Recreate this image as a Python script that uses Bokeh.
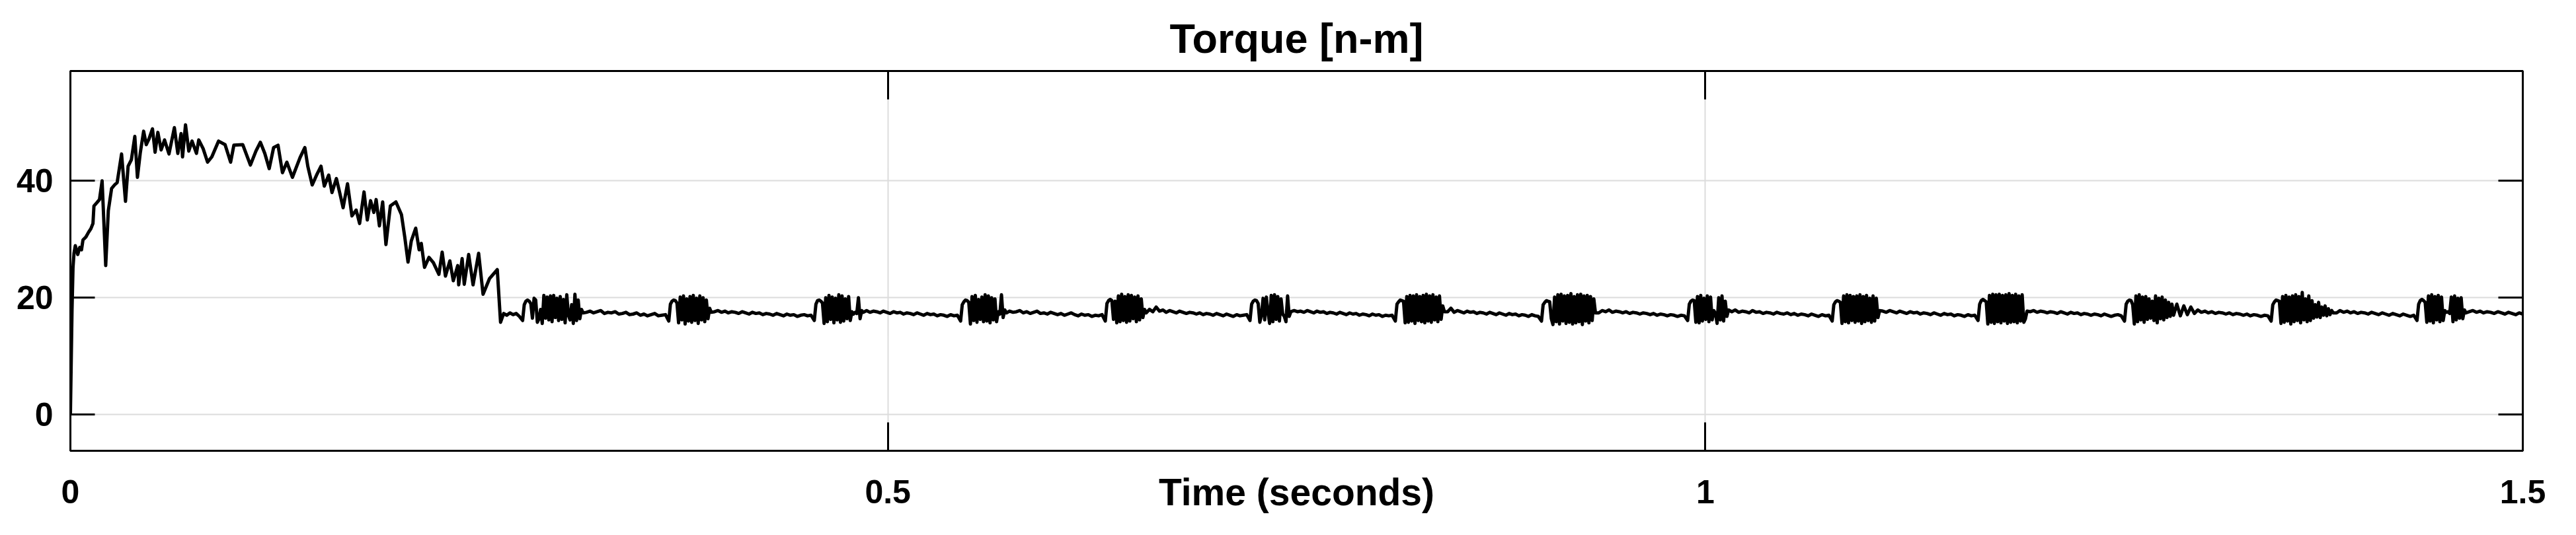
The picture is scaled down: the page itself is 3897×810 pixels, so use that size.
import numpy as np
from bokeh.plotting import figure
from bokeh.models import Range1d, LinearAxis, FixedTicker, NumeralTickFormatter, ColumnDataSource
from bokeh.embed import file_html
from bokeh.resources import INLINE

# ---------------- data ----------------
title_text = "Torque [n-m]"
x_label = "Time (seconds)"
x_ticks = [0, 0.5, 1, 1.5]
y_ticks = [0, 20, 40]
x_limits = (0, 1.5)
y_limits = (-6.2, 58.8)

# start-up transient (time in s, torque in N*m)
time_startup = [
    0.0, 0.0010, 0.0016, 0.0022, 0.0030, 0.0045, 0.0057, 0.0068, 0.0077, 0.0095,
    0.0111, 0.0125, 0.0138, 0.0144, 0.0160, 0.0178, 0.0194, 0.0216, 0.0232, 0.0252,
    0.0270, 0.0286, 0.0313, 0.0337, 0.0353, 0.0373, 0.0394, 0.0410, 0.0427, 0.0448,
    0.0464, 0.0481, 0.0502, 0.0518, 0.0535, 0.0555, 0.0576, 0.0603, 0.0636, 0.0657,
    0.0677, 0.0686, 0.0704, 0.0724, 0.0744, 0.0771, 0.0785, 0.0812, 0.0839, 0.0865,
    0.0906, 0.0946, 0.0980, 0.1000, 0.1054, 0.1101, 0.1135, 0.1162, 0.1189, 0.1216,
    0.1243, 0.1270, 0.1297, 0.1324, 0.1358, 0.1405, 0.1434, 0.1452, 0.1479, 0.1506,
    0.1533, 0.1553, 0.1580, 0.1600, 0.1627, 0.1647, 0.1668, 0.1695, 0.1722, 0.1748,
    0.1769, 0.1796, 0.1816, 0.1836, 0.1856, 0.1870, 0.1890, 0.1910, 0.1930, 0.1957,
    0.1991, 0.2025, 0.2045, 0.2065, 0.2085, 0.2112, 0.2133, 0.2146, 0.2166, 0.2193,
    0.2220, 0.2254, 0.2274, 0.2294, 0.2321, 0.2342, 0.2369, 0.2375, 0.2396, 0.2409,
    0.2436, 0.2463, 0.2497, 0.2524, 0.2564, 0.2611, 0.2631,
]
torque_startup = [
    0.0, 18.0, 25.2, 27.6, 28.9, 27.4, 28.6, 28.2, 29.9, 30.4,
    31.2, 31.8, 32.7, 35.7, 36.2, 36.8, 40.0, 25.5, 34.9, 38.7,
    39.3, 39.7, 44.6, 36.5, 42.5, 43.6, 47.6, 40.6, 44.7, 48.5,
    46.2, 47.2, 48.9, 44.9, 48.3, 45.3, 47.0, 44.6, 49.1, 44.7,
    48.1, 44.1, 49.6, 45.1, 46.8, 44.7, 47.0, 45.5, 43.2, 44.1,
    46.8, 46.2, 43.2, 46.1, 46.2, 42.7, 45.1, 46.6, 44.7, 42.1,
    45.7, 46.1, 41.4, 43.2, 40.6, 44.0, 45.7, 42.5, 39.3, 41.0,
    42.5, 39.1, 41.0, 38.0, 40.4, 38.0, 35.4, 39.5, 34.0, 35.0,
    32.7, 38.1, 33.3, 36.6, 34.6, 36.8, 32.3, 36.4, 29.1, 35.7,
    36.4, 34.2, 30.4, 26.1, 29.7, 31.9, 28.2, 29.3, 25.2, 26.9,
    26.0, 24.0, 27.8, 23.7, 26.3, 22.9, 25.5, 22.2, 26.7, 22.3,
    27.4, 22.2, 27.6, 20.6, 23.3, 24.8, 15.8,
]

# steady state: ripple bursts (sampled every 1 ms from their start time)
burst_start = [0.2766, 0.3660, 0.4550, 0.5445, 0.6330, 0.7215, 0.8104,
               0.8998, 0.9892, 1.0776, 1.1668, 1.2564, 1.3461, 1.4353]
burst_dt = 0.001
burst_torque = [
    [16.1, 18.8, 19.4, 19.6, 19.4, 19.0, 16.5, 19.9, 19.6, 15.8, 16.4, 18.0, 15.6, 20.4, 16.5, 20.1, 16.2, 20.3, 15.9, 20.4,
     16.6, 19.9, 16.1, 20.2, 16.3, 19.7, 15.7, 20.5, 17.0, 16.2, 18.8, 15.6, 20.6, 16.1, 19.6, 16.4, 18.0, 17.4],
    [16.0, 18.9, 19.4, 19.6, 19.5, 19.1, 15.7, 20.1, 16.2, 20.3, 15.5, 19.8, 16.0, 20.2, 15.8, 20.4, 16.1, 19.9, 15.6, 20.3,
     16.2, 20.0, 15.9, 19.6, 16.4, 18.2, 17.5],
    [16.1, 18.9, 19.5, 19.6, 19.4, 19.1, 15.6, 20.0, 15.9, 20.4, 16.3, 20.1, 15.7, 19.9, 16.2, 20.5, 15.8, 20.3, 16.0, 19.8,
     16.4, 20.2, 16.1, 17.6, 17.2, 17.5, 17.3, 20.0, 16.4, 17.8, 17.5],
    [16.0, 18.8, 19.3, 19.6, 19.5, 19.2, 15.5, 20.2, 16.1, 20.4, 15.8, 19.7, 16.3, 20.1, 15.9, 20.5, 16.0, 20.3, 15.7, 20.0,
     16.2, 19.8, 15.9, 17.6, 17.2, 20.5, 16.6, 17.9, 17.4],
    [16.0, 19.0, 19.5, 19.7, 19.5, 16.3, 19.4, 15.7, 20.3, 15.9, 20.6, 16.1, 20.2, 15.8, 20.5, 16.0, 20.4, 16.4, 20.1, 15.9,
     20.3, 16.2, 19.8, 16.6, 18.0, 17.4],
    [16.1, 18.9, 19.4, 19.6, 19.5, 19.0, 15.8, 17.0, 19.9, 16.2, 20.1, 17.5, 15.6, 20.4, 15.9, 20.5, 16.3, 20.2, 16.0, 19.8,
     17.2, 16.8, 15.9, 20.3, 16.8, 17.6],
    [16.0, 18.9, 19.3, 19.6, 19.5, 19.4, 15.7, 20.2, 15.8, 20.4, 16.0, 20.3, 15.6, 20.5, 16.1, 20.2, 15.9, 20.4, 15.7, 20.6,
     16.0, 20.3, 15.8, 20.5, 16.2, 20.1, 15.9, 20.3, 16.3, 18.6, 17.6],
    [16.0, 18.8, 19.2, 19.5, 19.4, 19.3, 16.4, 15.4, 20.1, 15.9, 20.5, 15.5, 20.6, 16.0, 20.3, 15.6, 20.4, 15.8, 20.7, 15.5,
     20.2, 15.7, 20.5, 15.9, 20.6, 15.4, 20.3, 16.0, 20.4, 15.7, 20.2, 16.1, 19.8, 17.4],
    [16.1, 18.9, 19.4, 19.6, 19.5, 15.8, 20.2, 15.7, 20.4, 16.0, 19.9, 16.3, 20.3, 15.9, 20.1, 16.2, 17.8, 17.3, 15.6, 20.0,
     16.2, 20.3, 16.0, 19.4, 16.8, 17.9],
    [16.0, 18.8, 19.3, 19.5, 19.4, 19.2, 15.6, 20.3, 15.9, 20.5, 15.7, 20.4, 16.1, 20.2, 15.8, 20.3, 16.0, 20.5, 15.6, 20.2,
     15.9, 20.4, 16.1, 19.9, 15.8, 20.3, 16.0, 19.9, 16.6, 17.8],
    [16.1, 18.9, 19.5, 19.7, 19.5, 19.3, 15.5, 20.4, 15.8, 20.6, 15.6, 20.5, 15.9, 20.6, 15.7, 20.4, 16.0, 20.5, 15.6, 20.7,
     15.8, 20.4, 15.9, 20.6, 15.7, 20.3, 16.0, 20.5, 15.8, 16.4, 17.7],
    [16.0, 18.9, 19.4, 19.6, 19.5, 18.8, 15.5, 20.3, 15.9, 20.5, 16.2, 20.1, 15.8, 20.2, 16.3, 19.8, 16.5, 19.4, 16.1, 20.3,
     15.7, 19.9, 16.4, 20.1, 16.2, 19.6, 16.6, 19.2, 16.8, 18.9, 17.0],
    [16.0, 18.8, 19.3, 19.6, 19.5, 19.4, 15.6, 20.2, 15.8, 20.4, 16.0, 20.1, 15.5, 20.3, 15.9, 20.5, 16.1, 20.2, 15.7, 20.9,
     16.2, 19.8, 15.9, 20.3, 16.1, 19.5, 16.5, 18.8, 16.7, 19.2, 16.6, 18.4, 17.0, 18.6, 16.9, 18.1, 17.1, 17.8, 17.4],
    [16.1, 18.9, 19.5, 19.7, 19.5, 19.2, 15.8, 20.3, 16.0, 20.5, 15.7, 20.2, 16.2, 20.4, 15.9, 20.1, 16.1, 17.8, 17.5, 17.6,
     17.3, 20.1, 15.9, 20.3, 16.2, 19.9, 16.5, 20.0, 16.4, 17.9, 17.4],
]

# steady state: quiet stretches before, between and after the bursts
quiet_start = 0.265
quiet_end = 1.5
quiet_torque = [
    [17.3, 17.0, 17.4, 17.1, 17.3, 16.8],
    [17.5, 17.7, 17.4, 17.6, 17.8, 17.3, 17.5, 17.4, 17.6, 17.2, 17.3, 17.5, 17.1, 17.2, 17.4, 17.0, 17.2, 16.9, 17.1, 17.3,
     16.9, 17.0, 17.1],
    [17.6, 17.8, 17.5, 17.7, 17.4, 17.6, 17.5, 17.3, 17.6, 17.4, 17.2, 17.5, 17.3, 17.4, 17.1, 17.3, 17.2, 17.0, 17.3, 17.1,
     16.9, 17.2, 17.0, 17.1, 16.8, 17.0, 17.1, 16.9, 17.0],
    [17.8, 17.5, 17.7, 17.6, 17.4, 17.7, 17.5, 17.3, 17.6, 17.4, 17.5, 17.2, 17.4, 17.3, 17.1, 17.4, 17.2, 17.0, 17.3, 17.1,
     17.2, 16.9, 17.1, 17.0, 16.8, 17.1, 16.9, 17.0],
    [17.7, 17.5, 17.6, 17.8, 17.4, 17.6, 17.3, 17.5, 17.7, 17.3, 17.4, 17.2, 17.5, 17.3, 17.1, 17.3, 17.0, 17.2, 17.4, 17.1,
     16.9, 17.2, 17.0, 17.1, 16.8, 17.0, 16.9, 17.1],
    [18.0, 17.6, 18.4, 17.7, 17.9, 17.5, 17.8, 17.6, 17.4, 17.7, 17.5, 17.3, 17.5, 17.4, 17.2, 17.4, 17.1, 17.3, 17.2, 17.0,
     17.3, 17.1, 16.9, 17.2, 17.0, 16.8, 17.1, 16.9, 17.0, 17.1],
    [17.8, 17.6, 17.7, 17.5, 17.8, 17.6, 17.4, 17.7, 17.5, 17.6, 17.3, 17.5, 17.4, 17.2, 17.5, 17.3, 17.1, 17.4, 17.2, 17.3,
     17.0, 17.2, 17.1, 16.9, 17.2, 17.0, 17.1, 16.8, 17.0, 16.9, 17.0],
    [17.6, 18.2, 17.5, 17.8, 17.6, 17.4, 17.7, 17.5, 17.6, 17.3, 17.5, 17.4, 17.2, 17.5, 17.3, 17.1, 17.4, 17.2, 17.0, 17.3,
     17.1, 17.2, 16.9, 17.1, 17.0, 16.8, 17.1, 16.9, 16.8],
    [17.4, 17.8, 17.6, 17.9, 17.5, 17.7, 17.6, 17.4, 17.6, 17.3, 17.5, 17.4, 17.2, 17.4, 17.3, 17.1, 17.3, 17.0, 17.2, 17.1,
     16.9, 17.1, 17.0, 16.8, 17.0, 16.9],
    [17.6, 17.9, 17.5, 17.7, 17.6, 17.4, 17.8, 17.5, 17.6, 17.3, 17.5, 17.4, 17.2, 17.5, 17.3, 17.2, 17.4, 17.1, 17.3, 17.0,
     17.2, 17.1, 16.9, 17.2, 17.0, 16.8, 17.1, 16.9, 17.0],
    [17.7, 17.5, 17.8, 17.6, 17.4, 17.7, 17.5, 17.3, 17.6, 17.4, 17.5, 17.2, 17.4, 17.3, 17.1, 17.4, 17.2, 17.0, 17.3, 17.1,
     17.2, 16.9, 17.1, 17.0, 16.8, 17.1, 16.9, 17.0],
    [17.6, 17.8, 17.5, 17.7, 17.6, 17.4, 17.6, 17.5, 17.3, 17.6, 17.4, 17.2, 17.5, 17.3, 17.4, 17.1, 17.3, 17.2, 17.0, 17.2,
     17.1, 16.9, 17.2, 17.0, 16.8, 17.0, 17.1, 16.9],
    [18.9, 16.9, 18.6, 17.1, 18.4, 17.3, 17.9, 17.5, 17.7, 17.4, 17.6, 17.3, 17.5, 17.4, 17.2, 17.4, 17.1, 17.3, 17.2, 17.0,
     17.2, 16.9, 17.1, 17.0, 16.8, 17.0, 16.9],
    [17.4, 17.8, 17.5, 17.7, 17.4, 17.6, 17.3, 17.5, 17.4, 17.2, 17.5, 17.3, 17.1, 17.4, 17.2, 17.0, 17.3, 17.1, 16.9, 17.2,
     17.0, 16.8, 17.0],
    [17.6, 17.8, 17.5, 17.7, 17.4, 17.6, 17.5, 17.3, 17.6, 17.4, 17.2, 17.5, 17.3, 17.1, 17.4, 17.2],
]

# ---------------- assemble the sampled signal ----------------
t_all = list(time_startup)
v_all = list(torque_startup)
burst_end = [s + burst_dt * (len(b) - 1) for s, b in zip(burst_start, burst_torque)]
q_from = [quiet_start] + [e + 0.002 for e in burst_end]
q_to = [s - 0.002 for s in burst_start] + [quiet_end]
for k, q in enumerate(quiet_torque):
    t_all += list(np.linspace(q_from[k], q_to[k], len(q)))
    v_all += q
    if k < len(burst_start):
        b = burst_torque[k]
        t_all += [burst_start[k] + burst_dt * i for i in range(len(b))]
        v_all += b

source = ColumnDataSource(data=dict(t=t_all, v=v_all))

# ---------------- figure ----------------
FONT = "Liberation Sans"

p = figure(width=3897, height=810, output_backend="svg", toolbar_location=None,
           x_range=Range1d(*x_limits), y_range=Range1d(*y_limits),
           min_border_left=106, min_border_right=81, min_border_top=107, min_border_bottom=128,
           background_fill_color="white", border_fill_color="white")

p.title.text = title_text
p.title.align = "center"
p.title.text_font = FONT
p.title.text_font_size = "63px"
p.title.text_font_style = "bold"
p.title.text_color = "black"
p.title.standoff = 29

p.outline_line_color = "black"
p.outline_line_width = 3

for g, ticks in ((p.xgrid[0], x_ticks), (p.ygrid[0], y_ticks)):
    g.ticker = FixedTicker(ticks=ticks)
    g.grid_line_color = "#dcdcdc"
    g.grid_line_width = 2


def style_axis(ax, ticks, tick_len, labels, standoff=0):
    ax.ticker = FixedTicker(ticks=ticks)
    ax.axis_line_color = "black"
    ax.axis_line_width = 3
    ax.major_tick_in = tick_len
    ax.major_tick_out = 0
    ax.major_tick_line_color = "black"
    ax.major_tick_line_width = 3
    ax.minor_tick_line_color = None
    if labels:
        ax.major_label_text_font = FONT
        ax.major_label_text_font_size = "50px"
        ax.major_label_text_font_style = "bold"
        ax.major_label_text_color = "black"
        ax.major_label_standoff = standoff
        ax.formatter = NumeralTickFormatter(format="0.[0]")
    else:
        ax.major_label_text_color = None
        ax.major_label_text_font_size = "10px"
        ax.major_label_standoff = 0


style_axis(p.xaxis[0], x_ticks, 43, True, 44)
style_axis(p.yaxis[0], y_ticks, 37, True, 26)

p.xaxis[0].axis_label = x_label
p.xaxis[0].axis_label_text_font = FONT
p.xaxis[0].axis_label_text_font_size = "57px"
p.xaxis[0].axis_label_text_font_style = "bold"
p.xaxis[0].axis_label_text_color = "black"
p.xaxis[0].axis_label_standoff = -52

top_axis = LinearAxis()
style_axis(top_axis, x_ticks, 43, False)
p.add_layout(top_axis, "above")
right_axis = LinearAxis()
style_axis(right_axis, y_ticks, 37, False)
p.add_layout(right_axis, "right")

p.line("t", "v", source=source, line_color="black", line_width=5, line_join="round")

open("out.html", "w").write(file_html(p, INLINE))
